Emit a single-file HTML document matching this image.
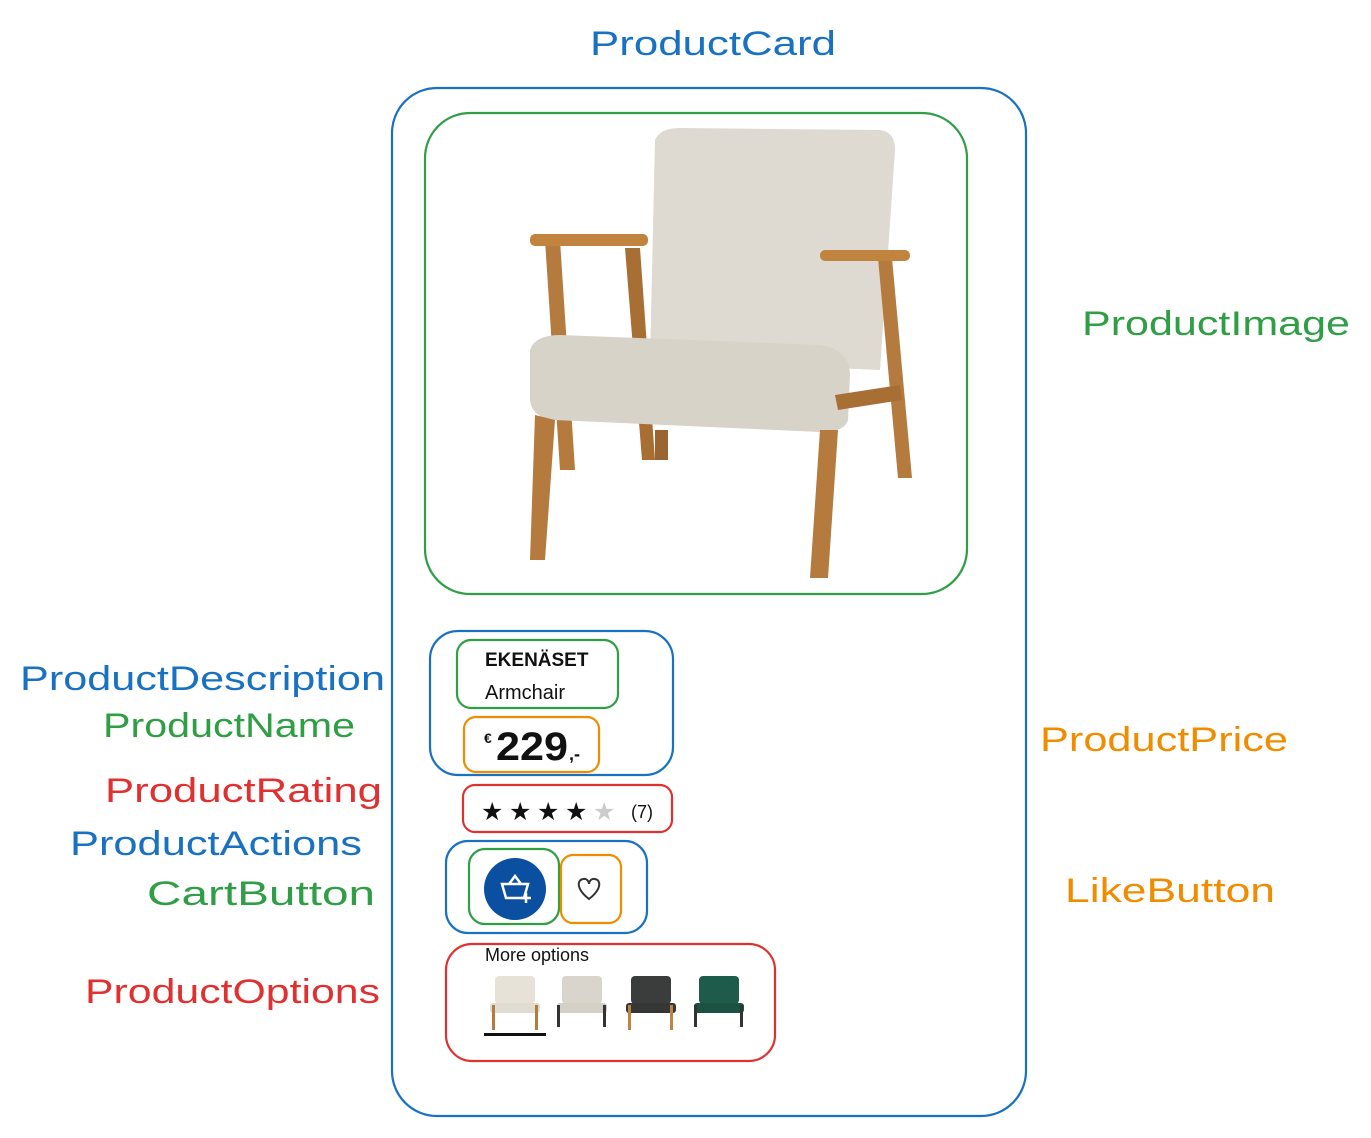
<!DOCTYPE html>
<html><head><meta charset="utf-8"><style>
html,body{margin:0;padding:0;background:#fff;}
svg{display:block}
text{font-family:"Liberation Sans",sans-serif;}
</style></head><body>
<svg width="1371" height="1138" viewBox="0 0 1371 1138" xmlns="http://www.w3.org/2000/svg">
<g fill="none" stroke-width="2.2" stroke-linejoin="round">
<rect x="392" y="88" width="634" height="1028" rx="45" stroke="#1971c2"/>
<rect x="425" y="113" width="542" height="481" rx="45" stroke="#2f9e44"/>
<rect x="430" y="631" width="243" height="144" rx="28" stroke="#1971c2"/>
<rect x="457" y="640" width="161" height="68" rx="14" stroke="#2f9e44"/>
<rect x="464" y="717" width="135" height="55" rx="12" stroke="#f08c00"/>
<rect x="463" y="785" width="209" height="47" rx="12" stroke="#e03131"/>
<rect x="446" y="841" width="201" height="92" rx="22" stroke="#1971c2"/>
<rect x="469" y="849" width="90" height="75" rx="16" stroke="#2f9e44"/>
<rect x="561" y="855" width="60" height="68" rx="12" stroke="#f08c00"/>
<rect x="446" y="944" width="329" height="117" rx="26" stroke="#e03131"/>
</g>
<!-- chair -->
<g>
<path d="M545 240 L560 240 L575 470 L560 470 Z" fill="#b57a3e"/>
<path d="M625 248 L640 248 L655 460 L642 460 Z" fill="#a86f35"/>
<rect x="530" y="234" width="118" height="12" rx="5" fill="#c0843f"/>
<path d="M655 140 Q660 128 680 128 L880 130 Q895 132 895 150 L880 370 L650 360 Z" fill="#dedad1"/>
<path d="M530 350 Q535 335 560 335 L820 345 Q850 350 850 375 L848 420 Q845 432 820 432 L555 420 Q532 418 530 400 Z" fill="#d7d3c9"/>
<path d="M535 415 L555 420 L545 560 L530 560 Z" fill="#b57a3e"/>
<path d="M820 430 L838 430 L828 578 L810 578 Z" fill="#b57a3e"/>
<path d="M655 430 L668 430 L668 460 L655 460 Z" fill="#9a6530"/>
<path d="M878 258 L892 258 L912 478 L898 478 Z" fill="#b57a3e"/>
<path d="M835 395 L900 385 L902 400 L838 410 Z" fill="#a86f35"/>
<rect x="820" y="250" width="90" height="11" rx="5" fill="#c0843f"/>
</g>
<!-- product texts -->
<text x="485" y="666" font-size="19" font-weight="bold" fill="#111">EKENÄSET</text>
<text x="485" y="699" font-size="20" fill="#111">Armchair</text>
<text x="484" y="743" font-size="14" font-weight="bold" fill="#111">€</text>
<text x="496" y="760" font-size="40" font-weight="bold" fill="#111" textLength="72" lengthAdjust="spacingAndGlyphs">229</text>
<text x="569" y="760" font-size="18" font-weight="bold" fill="#111">,-</text>
<g fill="#111" font-size="25">
<text x="481" y="820">★</text><text x="509" y="820">★</text><text x="537" y="820">★</text><text x="565" y="820">★</text><text x="593" y="820" fill="#ccc">★</text>
</g>
<text x="631" y="818" font-size="18" fill="#111">(7)</text>
<circle cx="515" cy="889" r="31" fill="#0a4fa0"/>
<path d="M502 884 L528 884 L524 898 L506 898 Z M509 884 L515 876 L521 884" fill="none" stroke="#fff" stroke-width="2.5"/>
<path d="M521 898 h10 M526 893 v10" stroke="#fff" stroke-width="2.5"/>
<path d="M589 899 C576 889 577 880 583 879 C587 878 589 882 589 884 C589 882 591 878 595 879 C601 880 602 889 589 899 Z" fill="none" stroke="#333" stroke-width="2"/>
<text x="485" y="961" font-size="18" fill="#111">More options</text>
<g>
<rect x="495" y="976" width="40" height="28" rx="4" fill="#e6e2d8"/><rect x="490" y="1003" width="50" height="10" rx="3" fill="#e0dcd2"/><rect x="492" y="1005" width="3" height="25" fill="#b57a3e"/><rect x="535" y="1005" width="3" height="25" fill="#b57a3e"/>
<rect x="484" y="1033" width="62" height="3" fill="#111"/>
<rect x="562" y="976" width="40" height="28" rx="4" fill="#d9d5cc"/><rect x="557" y="1003" width="50" height="10" rx="3" fill="#d4d0c6"/><rect x="557" y="1005" width="3" height="22" fill="#333"/><rect x="603" y="1005" width="3" height="22" fill="#333"/>
<rect x="631" y="976" width="40" height="28" rx="4" fill="#3b3d3c"/><rect x="626" y="1003" width="50" height="10" rx="3" fill="#353736"/><rect x="628" y="1005" width="3" height="25" fill="#c0843f"/><rect x="670" y="1005" width="3" height="25" fill="#c0843f"/>
<rect x="699" y="976" width="40" height="28" rx="4" fill="#1f5b4a"/><rect x="694" y="1003" width="50" height="10" rx="3" fill="#1b5242"/><rect x="694" y="1005" width="3" height="22" fill="#333"/><rect x="740" y="1005" width="3" height="22" fill="#333"/>
</g>
<!-- labels -->
<g font-size="34">
<text x="590" y="55" fill="#1971c2" textLength="246" lengthAdjust="spacingAndGlyphs">ProductCard</text>
<text x="1082" y="335" fill="#2f9e44" textLength="268" lengthAdjust="spacingAndGlyphs">ProductImage</text>
<text x="20" y="690" fill="#1971c2" textLength="365" lengthAdjust="spacingAndGlyphs">ProductDescription</text>
<text x="103" y="737" fill="#2f9e44" textLength="252" lengthAdjust="spacingAndGlyphs">ProductName</text>
<text x="105" y="802" fill="#e03131" textLength="277" lengthAdjust="spacingAndGlyphs">ProductRating</text>
<text x="70" y="855" fill="#1971c2" textLength="292" lengthAdjust="spacingAndGlyphs">ProductActions</text>
<text x="147" y="905" fill="#2f9e44" textLength="228" lengthAdjust="spacingAndGlyphs">CartButton</text>
<text x="85" y="1003" fill="#e03131" textLength="295" lengthAdjust="spacingAndGlyphs">ProductOptions</text>
<text x="1040" y="751" fill="#f08c00" textLength="248" lengthAdjust="spacingAndGlyphs">ProductPrice</text>
<text x="1065" y="902" fill="#f08c00" textLength="210" lengthAdjust="spacingAndGlyphs">LikeButton</text>
</g>
</svg>
</body></html>
